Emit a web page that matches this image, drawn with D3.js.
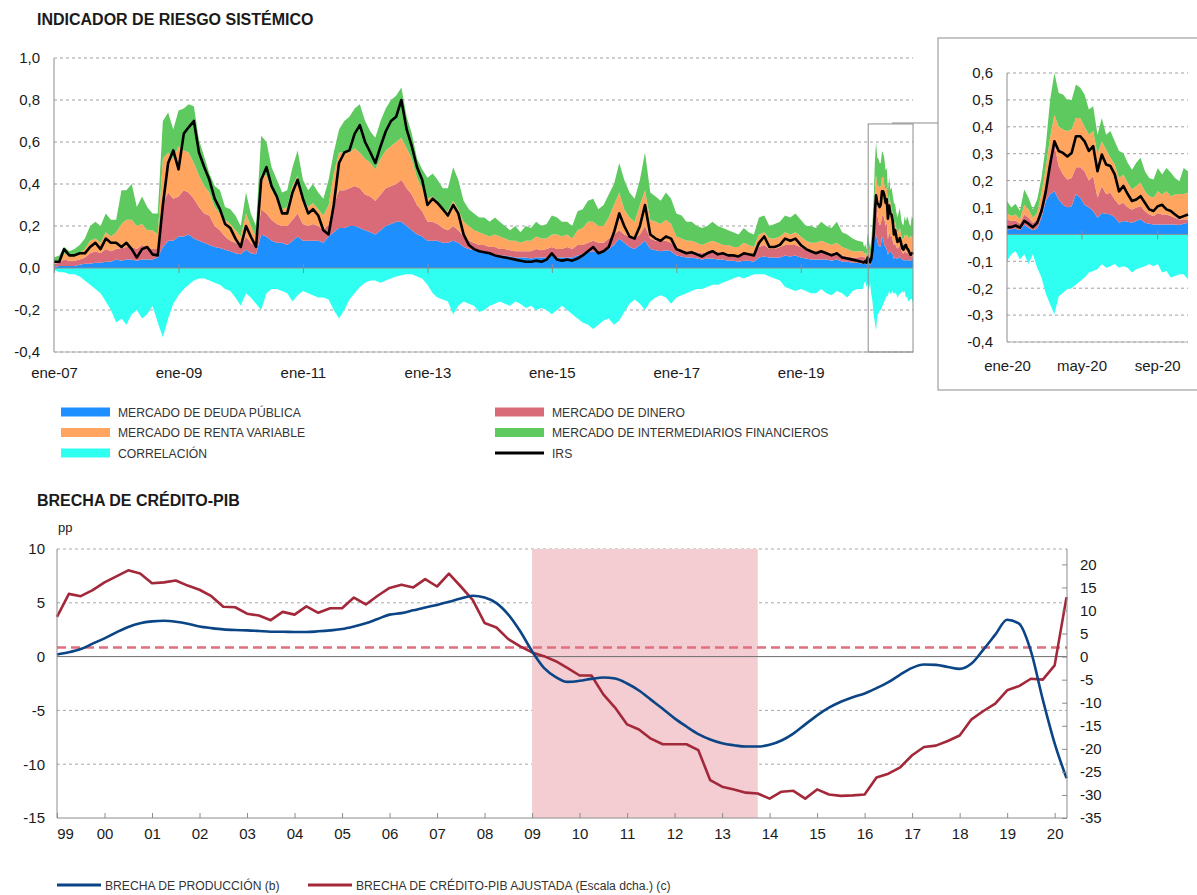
<!DOCTYPE html>
<html>
<head>
<meta charset="utf-8">
<script src="https://cdnjs.cloudflare.com/ajax/libs/d3/7.8.5/d3.min.js"></script>
<style>
  body { margin: 0; background: #fff; }
  svg text { font-family: "Liberation Sans", Arial, Helvetica, sans-serif; fill: #1a1a1a; }
  .titulo { font-weight: bold; font-size: 16px; }
  .eje text { font-size: 15px; }
  .leyenda { font-size: 13.5px; fill: #333 !important; }
</style>
</head>
<body>
<script>
//Datos del indicador de riesgo sistémico (mensual, ene-07 a dic-19), una fila por año
const deudaMes = [
  .005,.01,.01,.01,.01,.015,.02,.02,.025,.025,.03,.03,
  .04,.035,.04,.04,.035,.04,.04,.04,.05,.10,.13,.13,
  .15,.15,.16,.14,.13,.12,.11,.10,.095,.087,.08,.07,
  .065,.087,.07,.065,.16,.15,.13,.12,.12,.11,.13,.15,
  .13,.13,.13,.13,.12,.15,.17,.19,.19,.20,.20,.19,
  .18,.17,.16,.18,.20,.21,.22,.22,.20,.18,.16,.15,
  .13,.13,.13,.12,.12,.13,.12,.10,.09,.085,.08,.075,
  .07,.065,.06,.06,.055,.05,.05,.05,.045,.05,.05,.05,
  .06,.05,.05,.05,.05,.06,.065,.075,.08,.07,.075,.09,
  .11,.14,.12,.10,.09,.11,.13,.09,.085,.08,.085,.08,
  .06,.055,.05,.05,.045,.04,.045,.045,.04,.04,.035,.035,
  .03,.035,.035,.03,.05,.055,.05,.05,.05,.06,.055,.06,
  .05,.045,.04,.04,.04,.04,.035,.04,.03,.03,.025,.025
];
const dineroMes = [
  .015,.015,.03,.025,.025,.025,.03,.05,.055,.045,.06,.05,
  .05,.06,.06,.06,.055,.07,.06,.05,.04,.21,.23,.20,
  .19,.22,.20,.19,.16,.14,.14,.10,.085,.063,.05,.05,
  .035,.063,.05,.035,.12,.11,.10,.09,.08,.09,.10,.11,
  .08,.07,.08,.07,.06,.06,.13,.18,.18,.18,.19,.19,
  .17,.17,.16,.17,.18,.18,.18,.20,.18,.17,.14,.12,
  .09,.09,.08,.07,.06,.07,.06,.05,.04,.035,.03,.035,
  .03,.035,.03,.03,.03,.03,.03,.03,.035,.04,.035,.04,
  .04,.04,.04,.05,.04,.05,.045,.045,.05,.05,.045,.05,
  .05,.04,.04,.05,.05,.05,.07,.05,.045,.05,.045,.04,
  .03,.03,.03,.03,.03,.03,.03,.035,.035,.03,.03,.025,
  .03,.035,.03,.03,.05,.055,.04,.04,.05,.05,.055,.05,
  .05,.04,.04,.035,.04,.035,.035,.035,.03,.025,.025,.025
];
const rentaMes = [
  .01,.015,.03,.02,.025,.03,.04,.06,.06,.05,.08,.07,
  .08,.115,.13,.13,.11,.10,.08,.09,.07,.21,.19,.19,
  .24,.19,.19,.17,.15,.13,.11,.09,.08,.08,.08,.06,
  .05,.11,.08,.05,.17,.18,.14,.12,.08,.09,.16,.18,
  .12,.09,.10,.08,.07,.09,.15,.18,.18,.17,.18,.17,
  .17,.16,.15,.17,.18,.19,.20,.20,.19,.17,.13,.11,
  .11,.12,.11,.09,.09,.12,.10,.07,.07,.06,.06,.05,
  .05,.06,.06,.05,.045,.05,.04,.05,.05,.06,.055,.05,
  .06,.07,.06,.06,.05,.07,.08,.10,.09,.08,.08,.10,
  .14,.18,.12,.09,.08,.14,.17,.09,.09,.08,.10,.09,
  .06,.055,.05,.05,.045,.04,.045,.05,.045,.04,.045,.04,
  .04,.05,.045,.04,.06,.06,.05,.05,.05,.06,.05,.06,
  .05,.045,.04,.045,.05,.045,.04,.045,.04,.035,.03,.03
];
const intermMes = [
  .02,.02,.03,.025,.03,.04,.05,.07,.08,.08,.09,.08,
  .06,.16,.14,.17,.09,.13,.11,.08,.10,.18,.19,.14,
  .17,.20,.23,.27,.17,.14,.09,.10,.11,.06,.07,.07,
  .05,.10,.06,.05,.18,.16,.11,.09,.08,.08,.09,.12,
  .09,.08,.09,.08,.08,.12,.10,.11,.15,.17,.19,.23,
  .18,.15,.15,.18,.20,.22,.22,.24,.15,.12,.09,.09,
  .10,.11,.10,.10,.11,.16,.14,.10,.08,.08,.07,.08,
  .07,.08,.07,.06,.05,.07,.05,.07,.06,.07,.06,.07,
  .09,.08,.07,.06,.06,.09,.09,.10,.11,.08,.10,.11,
  .10,.14,.14,.12,.11,.12,.18,.13,.12,.11,.13,.12,
  .11,.11,.09,.09,.08,.08,.08,.09,.08,.08,.07,.07,
  .06,.07,.06,.06,.08,.08,.06,.07,.07,.08,.08,.09,
  .08,.07,.08,.07,.09,.08,.08,.10,.07,.07,.06,.05
];
const correlMes = [
  -.01,-.02,-.02,-.03,-.03,-.04,-.06,-.08,-.1,-.12,-.16,-.2,
  -.26,-.24,-.27,-.22,-.2,-.24,-.22,-.18,-.26,-.33,-.24,-.17,
  -.13,-.1,-.08,-.06,-.05,-.05,-.06,-.07,-.08,-.1,-.11,-.14,
  -.18,-.12,-.14,-.17,-.2,-.12,-.1,-.1,-.11,-.12,-.16,-.13,
  -.11,-.12,-.13,-.14,-.14,-.15,-.2,-.24,-.2,-.15,-.12,-.09,
  -.07,-.06,-.06,-.07,-.06,-.05,-.04,-.035,-.03,-.03,-.04,-.05,
  -.08,-.12,-.14,-.15,-.16,-.22,-.18,-.16,-.17,-.18,-.21,-.2,
  -.18,-.17,-.16,-.17,-.18,-.16,-.17,-.19,-.18,-.2,-.19,-.2,
  -.22,-.2,-.18,-.2,-.22,-.24,-.26,-.27,-.29,-.27,-.25,-.24,
  -.27,-.25,-.21,-.17,-.15,-.17,-.2,-.16,-.14,-.13,-.14,-.17,
  -.14,-.13,-.12,-.11,-.1,-.1,-.09,-.08,-.08,-.07,-.06,-.05,
  -.04,-.05,-.04,-.03,-.03,-.03,-.04,-.05,-.06,-.09,-.1,-.11,
  -.1,-.11,-.12,-.12,-.1,-.12,-.13,-.11,-.12,-.14,-.11,-.1
];
const irsMes = [
  .03,.03,.09,.06,.06,.07,.07,.10,.12,.09,.14,.12,
  .12,.10,.12,.09,.05,.09,.10,.065,.06,.30,.50,.56,
  .47,.64,.67,.70,.55,.48,.42,.33,.28,.21,.19,.14,
  .10,.20,.15,.10,.42,.48,.39,.34,.26,.26,.36,.42,
  .33,.26,.28,.25,.18,.16,.30,.50,.55,.56,.64,.68,
  .60,.55,.50,.58,.65,.70,.72,.80,.66,.58,.48,.42,
  .30,.33,.31,.28,.25,.30,.26,.16,.11,.09,.08,.075,
  .07,.06,.055,.05,.045,.04,.035,.03,.03,.035,.03,.04,
  .07,.04,.035,.04,.035,.045,.06,.08,.10,.07,.08,.10,
  .17,.26,.20,.15,.14,.20,.30,.16,.14,.13,.15,.14,
  .09,.08,.07,.075,.065,.055,.07,.08,.065,.07,.06,.06,
  .055,.07,.065,.06,.12,.15,.10,.10,.11,.14,.13,.14,
  .11,.09,.08,.07,.08,.07,.06,.07,.05,.045,.04,.035
];

//Datos 2020 (semanal, desde el 1 de enero), usados en el detalle y al final del gráfico principal
const deuda20 = [.019,.019,.021,.015,.035,.025,.015,.022,.062,.124,.15,.16,.13,.11,.1,.105,.15,.136,.11,.1,.087,.062,.08,.077,.074,.064,.043,.05,.047,.043,.05,.056,.043,.04,.037,.037,.037,.037,.037,.037,.035,.04,.043];
const dinero20 = [.037,.031,.031,.025,.039,.037,.028,.034,.048,.046,.1,.174,.124,.113,.104,.105,.1,.114,.125,.1,.13,.074,.1,.073,.081,.066,.067,.068,.053,.05,.05,.049,.044,.034,.031,.043,.037,.037,.031,.025,.02,.016,.012];
const renta20 = [.024,.018,.022,.016,.036,.031,.019,.024,.045,.08,.11,.111,.146,.167,.18,.18,.183,.183,.165,.17,.167,.164,.166,.165,.13,.13,.1,.105,.092,.074,.08,.087,.073,.068,.068,.08,.074,.086,.074,.086,.095,.094,.1];
const interm20 = [.044,.032,.04,.031,.057,.043,.031,.05,.055,.08,.14,.155,.126,.13,.116,.11,.124,.112,.12,.094,.092,.07,.087,.055,.099,.086,.1,.08,.074,.073,.086,.093,.075,.068,.068,.087,.075,.087,.088,.062,.048,.097,.08];
const correl20 = [-.1,-.074,-.062,-.093,-.074,-.11,-.074,-.124,-.16,-.22,-.26,-.297,-.23,-.217,-.204,-.2,-.186,-.173,-.16,-.142,-.136,-.13,-.11,-.124,-.118,-.11,-.124,-.118,-.124,-.142,-.13,-.124,-.118,-.11,-.118,-.11,-.142,-.136,-.16,-.155,-.148,-.148,-.167];
const irs20 = [.027,.027,.033,.025,.05,.04,.027,.043,.087,.16,.26,.346,.31,.303,.29,.303,.365,.365,.346,.31,.328,.235,.297,.26,.254,.223,.16,.18,.15,.124,.13,.142,.118,.093,.087,.105,.11,.093,.087,.074,.062,.068,.074];

//Brecha de crédito-PIB (trimestral, 1999T1 a 2020T2)
const anioInicio = 1999;
const brechaProduccion = [
  0.2,0.4,0.7,1.2,1.7,2.25,2.75,3.1,3.27,3.33,3.24,3.06,2.8,2.65,2.53,2.47,2.44,2.38,2.31,2.31,2.28,2.28,2.35,2.44,2.56,2.8,3.1,3.5,3.9,
  4.04,4.3,4.57,4.8,5.1,5.4,5.65,5.5,4.97,3.9,2.35,0.5,-1.05,-1.9,-2.35,-2.25,-2.07,-1.94,-2.04,-2.5,-3.15,-4.0,-4.85,-5.74,-6.5,-7.2,-7.7,-8.05,-8.24,-8.36,-8.36,-8.2,-7.8,-7.16,
  -6.3,-5.46,-4.75,-4.2,-3.77,-3.43,-2.93,-2.38,-1.67,-1.05,-0.74,-0.77,-0.96,-1.14,-0.65,0.65,2.04,3.43,3.06,0.5,-3.98,-8.06,-11.3
];
const brechaCredito = [
  8.6,13.6,13.1,14.4,16.1,17.4,18.7,18.0,15.9,16.1,16.5,15.4,14.5,13.1,10.8,10.7,9.3,8.9,7.9,9.7,9.1,10.9,9.5,10.5,10.5,12.8,11.3,13.2,14.9,
  15.6,15.0,16.8,15.2,18.0,15.2,12.3,7.3,6.3,3.8,2.2,0.9,0.1,-1.0,-2.5,-4.1,-4.1,-8.2,-11.1,-14.7,-15.8,-17.8,-19.0,-19.0,-19.0,-20.3,-26.8,-28.2,-28.8,-29.5,-29.7,-30.8,-29.3,-29.1,-30.8,
  -28.8,-29.9,-30.2,-30.1,-29.9,-26.2,-25.4,-24.0,-21.4,-19.6,-19.3,-18.3,-17.1,-13.6,-11.8,-10.2,-7.3,-6.4,-4.8,-5.0,-1.9,12.9
];
const umbralCredito = 2;
const sombraInicio = 2009, sombraFin = 2013.75;

//Ticks y etiquetas
const ticksRiesgo = [-0.4, -0.2, 0, 0.2, 0.4, 0.6, 0.8, 1.0];
const ticksDetalle = [-0.4, -0.3, -0.2, -0.1, 0, 0.1, 0.2, 0.3, 0.4, 0.5, 0.6];
const ticksIzq = [-15, -10, -5, 0, 5, 10];
const ticksDer = [-35, -30, -25, -20, -15, -10, -5, 0, 5, 10, 15, 20];
const mesesEs = ["ene", "feb", "mar", "abr", "may", "jun", "jul", "ago", "sep", "oct", "nov", "dic"];

const claves = ["deuda", "dinero", "renta", "interm"];
const colores = {deuda: "#1e8fff", dinero: "#d96b79", renta: "#ffa55f", interm: "#5ec95e", correl: "#2efff0"};
const gris = "#8c8c8c";

//------Tabla de filas para d3.stack
const filasMes = d3.timeMonth.range(new Date(2007, 0, 1), new Date(2020, 0, 1)).map((f, i) => ({
  fecha: f, deuda: deudaMes[i], dinero: dineroMes[i], renta: rentaMes[i],
  interm: intermMes[i], correl: correlMes[i], irs: irsMes[i]
}));
const filas2020 = deuda20.map((v, k) => ({
  fecha: d3.timeDay.offset(new Date(2020, 0, 1), 7 * k), deuda: v, dinero: dinero20[k],
  renta: renta20[k], interm: interm20[k], correl: correl20[k], irs: irs20[k]
}));
const filas = filasMes.concat(filas2020);

const coma = d => d.toFixed(1).replace(".", ",");
const etiquetaMes = d => mesesEs[d.getMonth()] + "-" + d3.timeFormat("%y")(d);

const svg = d3.select("body").append("svg")
  .attr("width", 1197)
  .attr("height", 895);

//------Títulos
svg.append("text").attr("class", "titulo").attr("x", 37).attr("y", 25).text("INDICADOR DE RIESGO SISTÉMICO");
svg.append("text").attr("class", "titulo").attr("x", 37).attr("y", 506).text("BRECHA DE CRÉDITO-PIB");

//------Dibujo de un panel de riesgo (rejilla, áreas, IRS)
function panelRiesgo(g, datos, x, y, ticksY, ticksX) {
  const [x0, x1] = x.range();
  const [yb, yt] = y.range();

  g.selectAll(".grid")
    .data(ticksY.filter(t => t !== 0))
    .enter()
    .append("line")
    .attr("x1", x0).attr("x2", x1)
    .attr("y1", d => y(d)).attr("y2", d => y(d))
    .attr("stroke", "#a0a0a0")
    .attr("stroke-dasharray", "3,3");

  const pila = d3.stack().keys(claves)(datos);
  const area = d3.area()
    .x(d => x(d.data.fecha))
    .y0(d => y(d[0]))
    .y1(d => y(d[1]));

  g.selectAll(".capa")
    .data(pila)
    .enter()
    .append("path")
    .attr("fill", d => colores[d.key])
    .attr("d", area);

  g.append("path")
    .datum(datos)
    .attr("fill", colores.correl)
    .attr("d", d3.area().x(d => x(d.fecha)).y0(y(0)).y1(d => y(d.correl)));

  //línea del cero y ticks del eje x sobre ella
  g.append("line")
    .attr("x1", x0).attr("x2", x1)
    .attr("y1", y(0)).attr("y2", y(0))
    .attr("stroke", gris);

  g.append("g")
    .attr("transform", `translate(0,${y(0) - 4})`)
    .call(d3.axisBottom(x).tickValues(ticksX).tickSize(9).tickFormat(""))
    .call(a => a.select(".domain").remove())
    .selectAll("line").attr("stroke", gris);

  g.append("path")
    .datum(datos)
    .attr("fill", "none")
    .attr("stroke", "#000")
    .attr("stroke-width", 2.6)
    .attr("stroke-linejoin", "round")
    .attr("d", d3.line().x(d => x(d.fecha)).y(d => y(d.irs)));

  //ejes
  g.append("line").attr("x1", x0).attr("x2", x0).attr("y1", yt).attr("y2", yb).attr("stroke", gris);
  g.append("line").attr("x1", x0).attr("x2", x1).attr("y1", yb).attr("y2", yb).attr("stroke", "#b0b0b0");

  g.append("g")
    .attr("class", "eje")
    .attr("transform", `translate(${x0},0)`)
    .call(d3.axisLeft(y).tickValues(ticksY).tickSize(0).tickPadding(14).tickFormat(coma))
    .call(a => a.select(".domain").remove());
}

//------Gráfico principal
const xMain = d3.scaleTime()
  .domain([new Date(2007, 0, 1), new Date(2020, 9, 21)])
  .range([54, 913]);
const yMain = d3.scaleLinear()
  .domain([-0.4, 1.0])
  .range([352, 58]);
const ticksAnios = d3.range(2007, 2021, 2).map(a => new Date(a, 0, 1));

const principal = svg.append("g");
panelRiesgo(principal, filas, xMain, yMain, ticksRiesgo, ticksAnios);

principal.append("g")
  .attr("class", "eje")
  .attr("transform", "translate(0,352)")
  .call(d3.axisBottom(xMain).tickValues(ticksAnios).tickSize(0).tickPadding(15).tickFormat(etiquetaMes))
  .call(a => a.select(".domain").remove());

//------Recuadro de zoom y conexión con el detalle
principal.append("rect")
  .attr("x", xMain(new Date(2020, 1, 1)))
  .attr("y", yMain(0.686))
  .attr("width", 913 - xMain(new Date(2020, 1, 1)))
  .attr("height", 352 - yMain(0.686))
  .attr("fill", "none")
  .attr("stroke", gris);
principal.append("line")
  .attr("x1", 892).attr("x2", 938)
  .attr("y1", 123).attr("y2", 123)
  .attr("stroke", gris);

//------Detalle 2020
svg.append("rect")
  .attr("x", 938).attr("y", 38)
  .attr("width", 270).attr("height", 352)
  .attr("fill", "#fff")
  .attr("stroke", gris);

const xIn = d3.scaleTime()
  .domain([new Date(2020, 0, 1), new Date(2020, 9, 21)])
  .range([1007, 1188]);
const yIn = d3.scaleLinear()
  .domain([-0.4, 0.6])
  .range([342, 73]);
const ticksDet = [new Date(2020, 0, 1), new Date(2020, 4, 1), new Date(2020, 8, 1)];

const detalle = svg.append("g");
panelRiesgo(detalle, filas2020, xIn, yIn, ticksDetalle, ticksDet.slice(1));
detalle.append("g")
  .attr("class", "eje")
  .attr("transform", "translate(0,342)")
  .call(d3.axisBottom(xIn).tickValues(ticksDet).tickSize(0).tickPadding(18).tickFormat(etiquetaMes))
  .call(a => a.select(".domain").remove());

//------Leyenda superior (texto estrechado como en el original)
const leyenda1 = [
  {txt: "MERCADO DE DEUDA PÚBLICA", c: colores.deuda, col: 0, fila: 0},
  {txt: "MERCADO DE RENTA VARIABLE", c: colores.renta, col: 0, fila: 1},
  {txt: "CORRELACIÓN", c: colores.correl, col: 0, fila: 2},
  {txt: "MERCADO DE DINERO", c: colores.dinero, col: 1, fila: 0},
  {txt: "MERCADO DE INTERMEDIARIOS FINANCIEROS", c: colores.interm, col: 1, fila: 1},
  {txt: "IRS", c: "#000", col: 1, fila: 2, linea: true}
];
const leg1 = svg.selectAll(".leg1")
  .data(leyenda1)
  .enter()
  .append("g")
  .attr("transform", d => `translate(${d.col ? 495 : 61},${412 + d.fila * 20.5})`);
leg1.append("rect")
  .attr("x", 0)
  .attr("y", d => d.linea ? -1.5 : -4.5)
  .attr("width", 49)
  .attr("height", d => d.linea ? 3 : 9)
  .attr("fill", d => d.c);
leg1.append("text")
  .attr("class", "leyenda")
  .attr("transform", "translate(57,0) scale(0.9,1)")
  .attr("dy", "0.36em")
  .text(d => d.txt);

//------Gráfico inferior: brecha de crédito-PIB
const filasB = brechaProduccion.map((v, i) => ({t: anioInicio + i / 4, prod: v, cred: brechaCredito[i]}));

const xB = d3.scaleLinear().domain([1999, 2020.26]).range([57, 1067]);
const yL = d3.scaleLinear().domain([-15, 10]).range([818, 549]);
const yR = d3.scaleLinear().domain([-35, 23.333]).range([818, 549]);

const inf = svg.append("g");

inf.selectAll(".gridB")
  .data(ticksIzq.filter(t => t !== 0 && t !== -15))
  .enter()
  .append("line")
  .attr("x1", 57).attr("x2", 1067)
  .attr("y1", d => yL(d)).attr("y2", d => yL(d))
  .attr("stroke", "#a8a8a8")
  .attr("stroke-dasharray", "3,3");

inf.append("rect")
  .attr("x", xB(sombraInicio))
  .attr("y", 549)
  .attr("width", xB(sombraFin) - xB(sombraInicio))
  .attr("height", 818 - 549)
  .attr("fill", "#f3cdd2");

inf.append("line")
  .attr("x1", 57).attr("x2", 1067)
  .attr("y1", yL(0)).attr("y2", yL(0))
  .attr("stroke", "#6e6e6e");

inf.append("line")
  .attr("x1", 57).attr("x2", 1067)
  .attr("y1", yR(umbralCredito)).attr("y2", yR(umbralCredito))
  .attr("stroke", "#e0707f")
  .attr("stroke-width", 2.5)
  .attr("stroke-dasharray", "9,5");

inf.append("path")
  .datum(filasB)
  .attr("fill", "none")
  .attr("stroke", "#a3283a")
  .attr("stroke-width", 2.6)
  .attr("stroke-linejoin", "round")
  .attr("d", d3.line().x(d => xB(d.t)).y(d => yR(d.cred)));

inf.append("path")
  .datum(filasB)
  .attr("fill", "none")
  .attr("stroke", "#0b4586")
  .attr("stroke-width", 2.6)
  .attr("d", d3.line().curve(d3.curveMonotoneX).x(d => xB(d.t)).y(d => yL(d.prod)));

//------Ejes inferiores
inf.append("line").attr("x1", 57).attr("x2", 57).attr("y1", 549).attr("y2", 818).attr("stroke", gris);
inf.append("line").attr("x1", 1067).attr("x2", 1067).attr("y1", 549).attr("y2", 818).attr("stroke", gris);
inf.append("line").attr("x1", 57).attr("x2", 1067).attr("y1", 818).attr("y2", 818).attr("stroke", gris);

inf.append("g")
  .attr("class", "eje")
  .attr("transform", "translate(57,0)")
  .call(d3.axisLeft(yL).tickValues(ticksIzq).tickSize(0).tickPadding(12).tickFormat(d => String(d)))
  .call(a => a.select(".domain").remove());

inf.append("g")
  .attr("class", "eje")
  .attr("transform", "translate(1067,0)")
  .call(d3.axisRight(yR).tickValues(ticksDer).tickSizeInner(-5).tickSizeOuter(0).tickPadding(13).tickFormat(d => String(d)))
  .call(a => a.select(".domain").remove())
  .selectAll("line").attr("stroke", gris);

const ejeAnios = inf.append("g")
  .attr("class", "eje")
  .attr("transform", "translate(0,818)")
  .call(d3.axisBottom(xB).tickValues(d3.range(1999, 2021)).tickSizeInner(-5).tickSizeOuter(0).tickPadding(10)
    .tickFormat(d => String(d).slice(2)))
  .call(a => a.select(".domain").remove());
ejeAnios.selectAll("line").attr("stroke", gris);
//la primera etiqueta ("99") va desplazada a la derecha del eje
ejeAnios.selectAll("text").filter(d => d === 1999).attr("x", 8);

svg.append("text")
  .attr("x", 58).attr("y", 532)
  .style("font-size", "13px")
  .text("pp");

//------Leyenda inferior
const leyenda2 = [
  {txt: "BRECHA DE PRODUCCIÓN (b)", c: "#0b4586", x: 57},
  {txt: "BRECHA DE CRÉDITO-PIB AJUSTADA (Escala dcha.) (c)", c: "#a3283a", x: 308}
];
const leg2 = svg.selectAll(".leg2")
  .data(leyenda2)
  .enter()
  .append("g")
  .attr("transform", d => `translate(${d.x},885)`);
leg2.append("line")
  .attr("x1", 0).attr("x2", 44)
  .attr("stroke", d => d.c)
  .attr("stroke-width", 3);
leg2.append("text")
  .attr("class", "leyenda")
  .attr("transform", "translate(48,0) scale(0.9,1)")
  .attr("dy", "0.36em")
  .text(d => d.txt);
</script>
</body>
</html>
